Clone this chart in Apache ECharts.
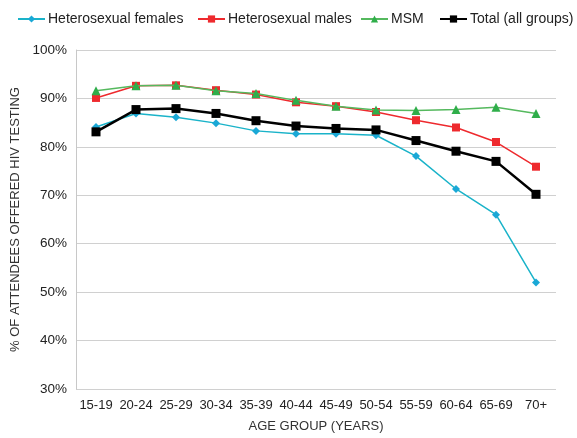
<!DOCTYPE html>
<html><head><meta charset="utf-8">
<script src="https://cdn.jsdelivr.net/npm/echarts@6/dist/echarts.min.js"></script>
<style>html,body{margin:0;padding:0;background:#fff}#c{width:577px;height:438px}</style>
</head><body><div id="c"></div>
<script>
var categories = ['15-19','20-24','25-29','30-34','35-39','40-44','45-49','50-54','55-59','60-64','65-69','70+'];
var heteroFemales = [84.1, 86.9, 86.1, 84.9, 83.3, 82.7, 82.7, 82.4, 78.1, 71.3, 66.0, 52.0];
var heteroMales   = [90.1, 92.6, 92.7, 91.7, 90.8, 89.2, 88.4, 87.2, 85.5, 84.0, 81.0, 75.9];
var msm           = [91.6, 92.6, 92.7, 91.6, 91.0, 89.6, 88.4, 87.6, 87.5, 87.7, 88.2, 86.9];
var total         = [83.1, 87.7, 87.9, 86.9, 85.4, 84.3, 83.8, 83.5, 81.3, 79.1, 77.0, 70.2];
var seriesNames = ['Heterosexual females', 'Heterosexual males', 'MSM', 'Total (all groups)'];
var yTicks = [30, 40, 50, 60, 70, 80, 90, 100];

var font = 'Liberation Sans';
var legendLefts = [17, 197, 360, 439];
function mkLegend(i) {
  return {
    left: legendLefts[i], top: 12, padding: 0, itemWidth: 27, itemHeight: 9, itemGap: 0,
    textStyle: {fontSize: 14, color: '#222', fontFamily: font, padding: [0, 0, 0, -2]},
    data: [seriesNames[i]]
  };
}
var chart = echarts.init(document.getElementById('c'), null, {renderer: 'canvas'});
chart.setOption({
  animation: false,
  backgroundColor: '#fff',
  textStyle: {fontFamily: font},
  legend: [mkLegend(0), mkLegend(1), mkLegend(2), mkLegend(3)],
  grid: {left: 76, right: 21, top: 50, bottom: 45, containLabel: false},
  xAxis: {
    type: 'category', data: categories, boundaryGap: true,
    name: 'AGE GROUP (YEARS)', nameLocation: 'middle', nameGap: 31,
    nameTextStyle: {fontSize: 13, color: '#333', fontFamily: font},
    axisLine: {show: false}, axisTick: {show: false},
    axisLabel: {fontSize: 13, color: '#222', margin: 10, interval: 0, fontFamily: font}
  },
  yAxis: {
    type: 'value', min: yTicks[0], max: yTicks[yTicks.length - 1], interval: 10,
    name: '% OF ATTENDEES OFFERED HIV TESTING', nameLocation: 'middle', nameGap: 53,
    nameTextStyle: {fontSize: 13, color: '#333', fontFamily: font},
    axisLine: {show: true, lineStyle: {color: '#c8c8c8', width: 1}}, axisTick: {show: false},
    axisLabel: {fontSize: 13.5, color: '#222', margin: 9, formatter: '{value}%', fontFamily: font},
    splitLine: {lineStyle: {color: '#d0d0d0', width: 1}}
  },
  series: [
    {name: seriesNames[0], type: 'line', data: heteroFemales, symbol: 'diamond', symbolSize: 8,
     color: '#1aaed0', lineStyle: {width: 1.5, color: '#1ab3c9'}, itemStyle: {color: '#1aa8d6'}, z: 2},
    {name: seriesNames[1], type: 'line', data: heteroMales, symbol: 'rect', symbolSize: 8,
     color: '#ee2a2e', lineStyle: {width: 1.5, color: '#ee2a2e'}, itemStyle: {color: '#ee2a2e'}, z: 3},
    {name: seriesNames[2], type: 'line', data: msm, symbol: 'triangle', symbolSize: 9,
     color: '#3bb44a', lineStyle: {width: 1.5, color: '#55b95e'}, itemStyle: {color: '#2fae4a'}, z: 4},
    {name: seriesNames[3], type: 'line', data: total, symbol: 'rect', symbolSize: 9,
     color: '#000', lineStyle: {width: 2.5, color: '#000'}, itemStyle: {color: '#000'}, z: 5}
  ]
});
</script></body></html>
